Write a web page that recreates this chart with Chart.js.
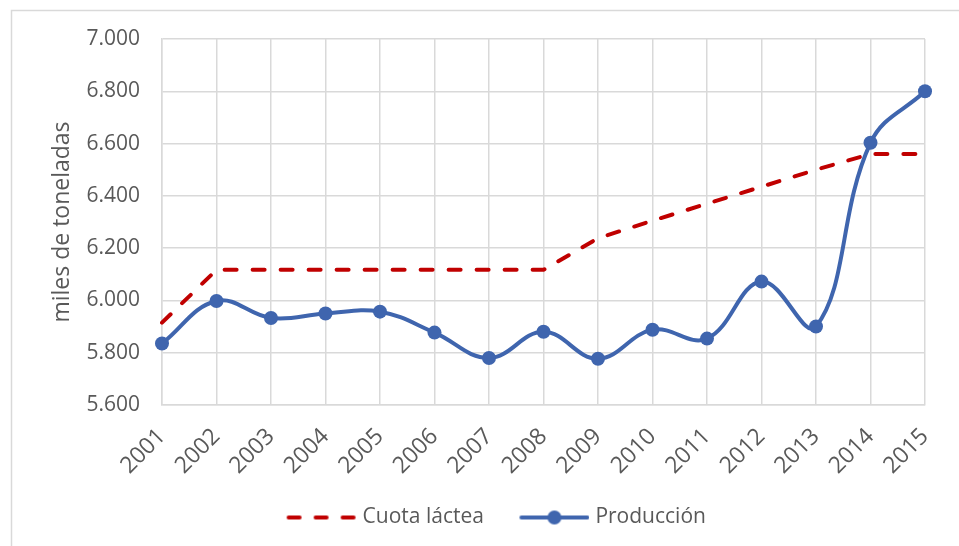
<!DOCTYPE html>
<html>
<head>
<meta charset="utf-8">
<script src="https://cdn.jsdelivr.net/npm/chart.js@4.4.1/dist/chart.umd.min.js"></script>
<style>
  html, body { margin: 0; padding: 0; background: #fff; }
</style>
</head>
<body>
<canvas id="chart" width="959" height="546"></canvas>
<script>
const years = ["2001", "2002", "2003", "2004", "2005", "2006", "2007", "2008",
  "2009", "2010", "2011", "2012", "2013", "2014", "2015"];
// miles de toneladas
const cuotaLactea = [5915, 6117, 6117, 6117, 6117, 6117, 6117, 6117,
  6238, 6305, 6370, 6435, 6500, 6560, 6560];
const produccion = [5835, 5998, 5933, 5950, 5957, 5877, 5780, 5880,
  5777, 5888, 5854, 6072, 5900, 6603, 6800];
const yMin = 5600, yMax = 7000, yStep = 200;

const RED = "#C00000";
const BLUE = "#3F65AE";
const GREY_TEXT = "#595959";
const GRID = "#d9d9d9";
const FONT = "'Open Sans', 'Noto Sans', sans-serif";

// thousands separated with a dot (7.000)
function fmt(v) {
  const s = String(Math.round(v));
  return s.replace(/\B(?=(\d{3})+(?!\d))/g, ".");
}

// legend samples, drawn against the right end so they sit close to the text
function swatch(color, dashed, marker) {
  const c = document.createElement("canvas");
  c.width = 80; c.height = 16;
  const g = c.getContext("2d");
  g.strokeStyle = color;
  g.lineWidth = 4;
  g.lineCap = "round";
  if (dashed) g.setLineDash([11, 16]);
  g.beginPath(); g.moveTo(12, 8); g.lineTo(78, 8); g.stroke();
  if (marker) {
    g.fillStyle = color;
    g.beginPath(); g.arc(45, 8, 7, 0, Math.PI * 2); g.fill();
  }
  return c;
}
const swatches = [swatch(RED, true, false), swatch(BLUE, false, true)];

const frame = {
  id: "frame",
  beforeDraw(chart) {
    const ctx = chart.ctx;
    ctx.save();
    ctx.fillStyle = "#fff";
    ctx.fillRect(0, 0, chart.width, chart.height);
    ctx.strokeStyle = GRID;
    ctx.lineWidth = 1.5;
    ctx.strokeRect(11.5, 10.5, chart.width + 20, chart.height + 20);
    ctx.restore();
  },
  // legend sits a little right of the plot centre in the original
  afterLayout(chart) {
    if (chart.legend) {
      chart.legend.left += 8;
      chart.legend.right += 8;
    }
  }
};

new Chart(document.getElementById("chart").getContext("2d"), {
  type: "line",
  data: {
    labels: years,
    datasets: [
      {
        label: "Cuota láctea",
        data: cuotaLactea,
        borderColor: RED,
        borderWidth: 4,
        borderDash: [12, 16],
        borderCapStyle: "round",
        tension: 0,
        pointRadius: 0,
        fill: false
      },
      {
        label: "Producción",
        data: produccion,
        borderColor: BLUE,
        backgroundColor: BLUE,
        borderWidth: 4,
        tension: 0.4,
        pointRadius: 7,
        pointBorderWidth: 0,
        pointBackgroundColor: BLUE,
        fill: false
      }
    ]
  },
  options: {
    responsive: false,
    animation: false,
    layout: { padding: { left: 46, right: 34, top: 39, bottom: 8 } },
    plugins: {
      tooltip: { enabled: false },
      legend: {
        position: "bottom",
        labels: {
          usePointStyle: true,
          pointStyleWidth: 71,
          padding: 30,
          color: GREY_TEXT,
          font: { family: FONT, size: 21 },
          generateLabels: chart => chart.data.datasets.map((ds, i) => ({
            text: ds.label,
            datasetIndex: i,
            hidden: !chart.isDatasetVisible(i),
            pointStyle: swatches[i],
            fontColor: GREY_TEXT,
            lineWidth: 0
          }))
        }
      }
    },
    scales: {
      x: {
        offset: false,
        grid: { color: GRID, lineWidth: 1.5, drawTicks: false },
        border: { color: GRID, width: 1.5 },
        ticks: {
          color: GREY_TEXT,
          font: { family: FONT, size: 23 },
          minRotation: 45,
          maxRotation: 45,
          padding: 18,
          autoSkip: false
        },
        afterFit: s => {
          s.height = 72;
          s.paddingLeft = 0;
          s.paddingRight = 0;
        }
      },
      y: {
        min: yMin,
        max: yMax,
        grid: { color: GRID, lineWidth: 1.5, drawTicks: false },
        border: { color: GRID, width: 1.5 },
        ticks: {
          stepSize: yStep,
          color: GREY_TEXT,
          font: { family: FONT, size: 21 },
          padding: 22,
          callback: v => fmt(v)
        },
        title: {
          display: true,
          text: "miles de toneladas",
          color: GREY_TEXT,
          font: { family: FONT, size: 23 },
          padding: { top: 3, bottom: 4 }
        },
        afterFit: s => { s.width = 116; }
      }
    }
  },
  plugins: [frame]
});
</script>
</body>
</html>
